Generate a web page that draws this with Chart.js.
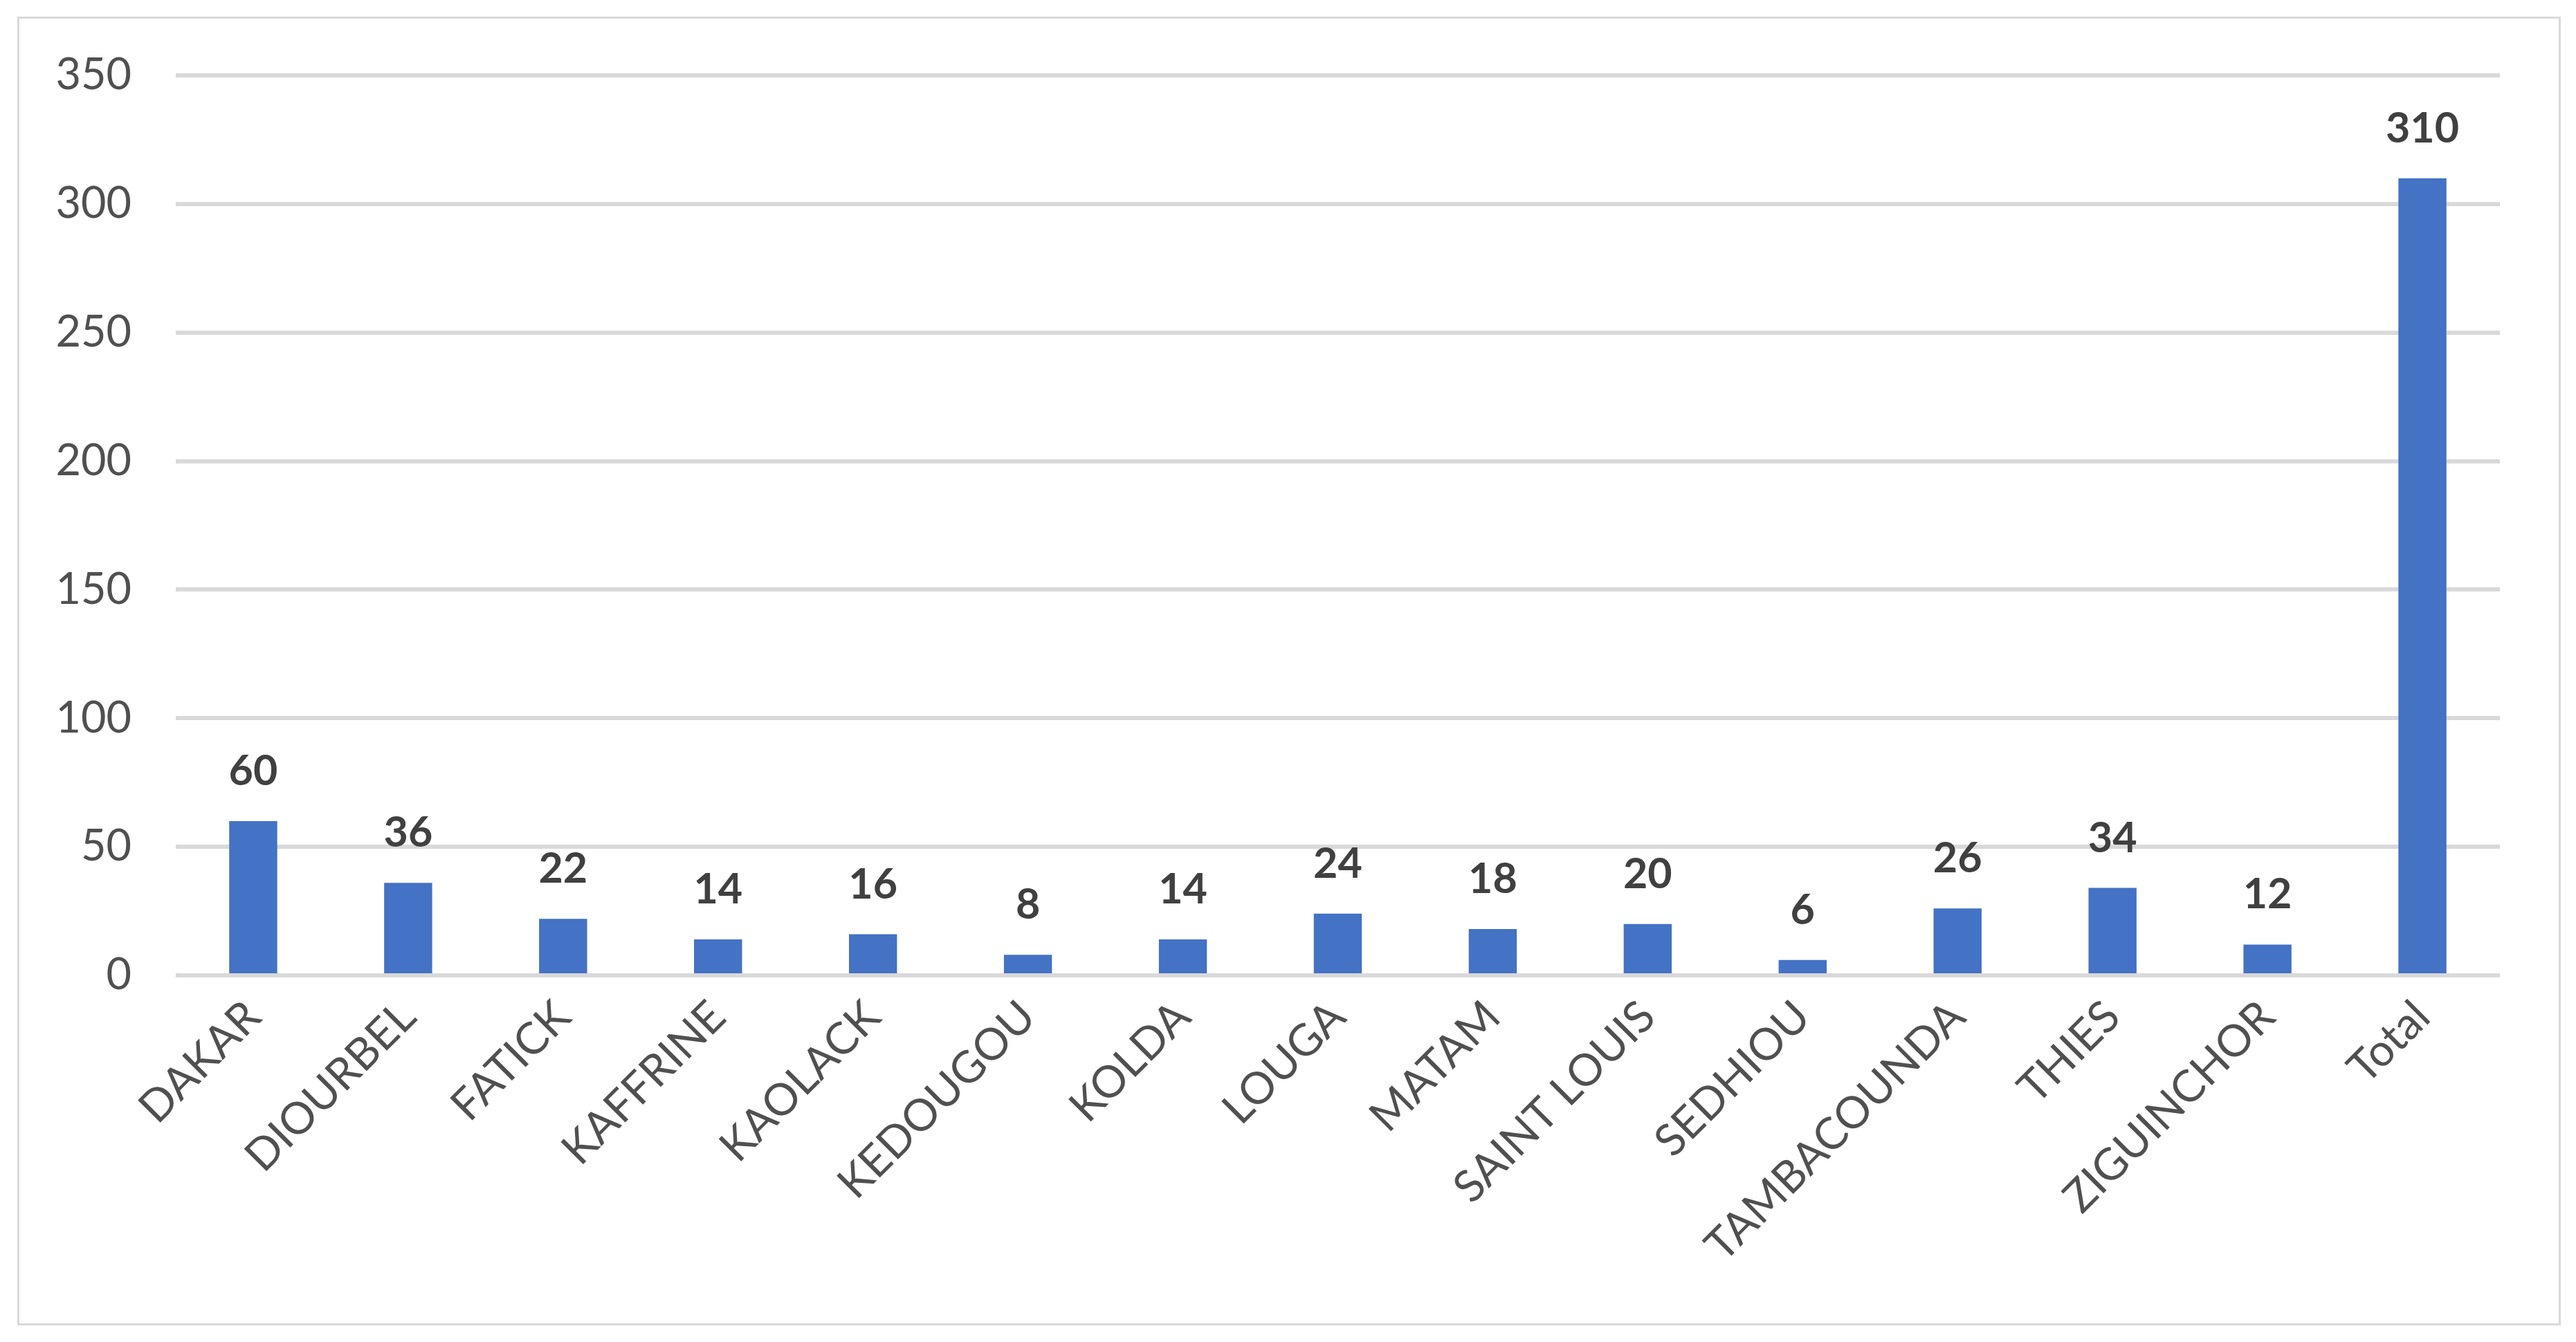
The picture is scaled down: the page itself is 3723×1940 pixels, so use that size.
<!DOCTYPE html>
<html>
<head>
<meta charset="utf-8">
<script src="https://cdn.jsdelivr.net/npm/chart.js@4.4.1/dist/chart.umd.min.js"></script>
<style>
  html, body { margin: 0; padding: 0; background: #fff; }
  #frame {
    position: absolute; left: 25px; top: 24px;
    width: 3670px; height: 1886px;
    border: 3px solid #d9d9d9;
  }
  #wrap { position: absolute; left: 0; top: 0; width: 3723px; height: 1940px; }
</style>
</head>
<body>
<div id="frame"></div>
<div id="wrap"><canvas id="chart"></canvas></div>
<script>
const regions = ["DAKAR", "DIOURBEL", "FATICK", "KAFFRINE", "KAOLACK", "KEDOUGOU", "KOLDA",
  "LOUGA", "MATAM", "SAINT LOUIS", "SEDHIOU", "TAMBACOUNDA", "THIES", "ZIGUINCHOR", "Total"];
const counts = [60, 36, 22, 14, 16, 8, 14, 24, 18, 20, 6, 26, 34, 12, 310];
const yTicks = [0, 50, 100, 150, 200, 250, 300, 350];

const FONT = "Lato, 'Open Sans', sans-serif";

// draws the value above each bar
const valueLabels = {
  id: "valueLabels",
  afterDatasetsDraw(chart) {
    const ctx = chart.ctx;
    const meta = chart.getDatasetMeta(0);
    ctx.save();
    ctx.fillStyle = "#404040";
    ctx.font = "bold 61px " + FONT;
    ctx.textAlign = "center";
    ctx.textBaseline = "alphabetic";
    meta.data.forEach((bar, i) => {
      ctx.fillText(String(counts[i]), bar.x, bar.y - 52);
    });
    ctx.restore();
  }
};

const ctx = document.getElementById("chart").getContext("2d");
new Chart(ctx, {
  type: "bar",
  data: {
    labels: regions,
    datasets: [{
      data: counts,
      backgroundColor: "#4472C4",
      borderWidth: 0,
      barPercentage: 0.31,
      categoryPercentage: 1.0
    }]
  },
  options: {
    responsive: true,
    maintainAspectRatio: false,
    animation: false,
    layout: { padding: { top: 109, right: 110, bottom: 0, left: 0 } },
    plugins: {
      legend: { display: false },
      tooltip: { enabled: false }
    },
    scales: {
      x: {
        grid: { display: false, drawTicks: false },
        border: { display: false },
        ticks: {
          color: "#505050",
          font: { family: FONT, size: 64 },
          minRotation: 45,
          maxRotation: 45,
          padding: 22,
          autoSkip: false
        },
        afterFit(scale) { scale.height = 530; }
      },
      y: {
        min: 0,
        max: 350,
        afterBuildTicks(scale) { scale.ticks = yTicks.map(v => ({ value: v })); },
        grid: { color: "#d9d9d9", lineWidth: 6, drawTicks: false },
        border: { display: false },
        ticks: {
          color: "#505050",
          font: { family: FONT, size: 63 },
          padding: 64
        },
        afterFit(scale) { scale.width = 254; }
      }
    }
  },
  plugins: [valueLabels]
});
</script>
</body>
</html>
